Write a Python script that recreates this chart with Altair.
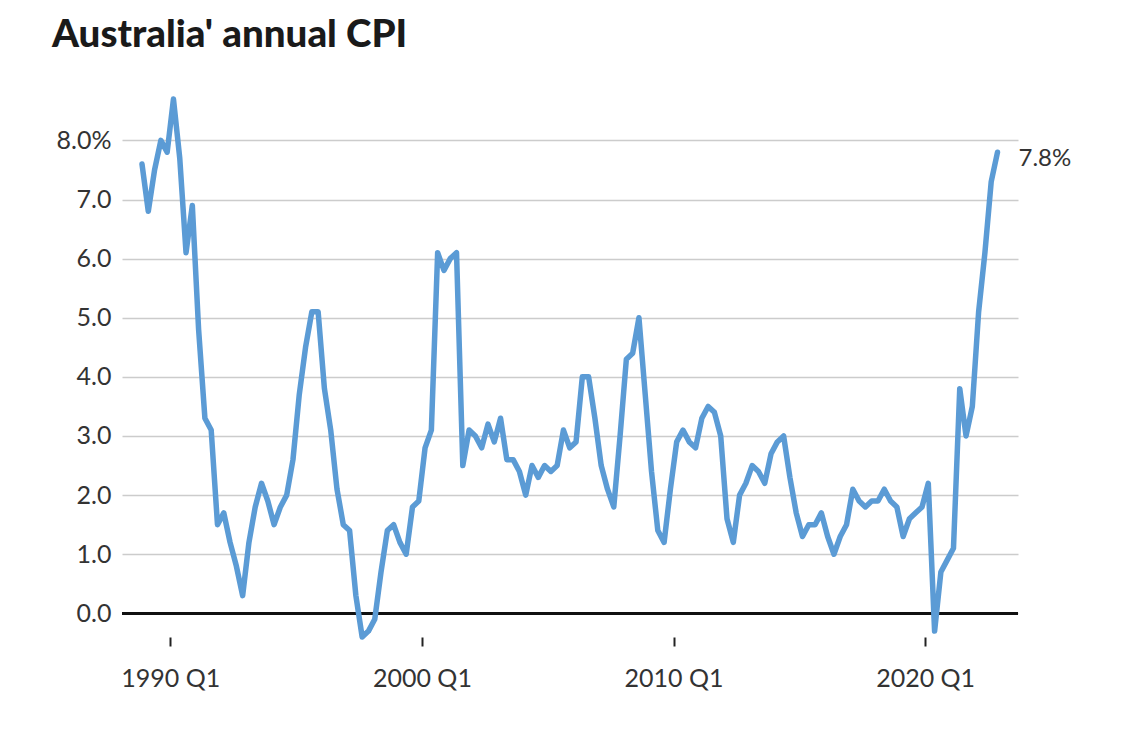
import altair as alt
import pandas as pd

# ---- data ----
START_YEAR = 1988
START_QUARTER = 4
cpi_values = [
    7.6,                      # 1988 Q4
    6.8, 7.5, 8.0, 7.8,       # 1989
    8.7, 7.7, 6.1, 6.9,       # 1990
    4.8, 3.3, 3.1, 1.5,       # 1991
    1.7, 1.2, 0.8, 0.3,       # 1992
    1.2, 1.8, 2.2, 1.9,       # 1993
    1.5, 1.8, 2.0, 2.6,       # 1994
    3.7, 4.5, 5.1, 5.1,       # 1995
    3.8, 3.1, 2.1, 1.5,       # 1996
    1.4, 0.3, -0.4, -0.3,     # 1997
    -0.1, 0.7, 1.4, 1.5,      # 1998
    1.2, 1.0, 1.8, 1.9,       # 1999
    2.8, 3.1, 6.1, 5.8,       # 2000
    6.0, 6.1, 2.5, 3.1,       # 2001
    3.0, 2.8, 3.2, 2.9,       # 2002
    3.3, 2.6, 2.6, 2.4,       # 2003
    2.0, 2.5, 2.3, 2.5,       # 2004
    2.4, 2.5, 3.1, 2.8,       # 2005
    2.9, 4.0, 4.0, 3.3,       # 2006
    2.5, 2.1, 1.8, 3.0,       # 2007
    4.3, 4.4, 5.0, 3.7,       # 2008
    2.4, 1.4, 1.2, 2.1,       # 2009
    2.9, 3.1, 2.9, 2.8,       # 2010
    3.3, 3.5, 3.4, 3.0,       # 2011
    1.6, 1.2, 2.0, 2.2,       # 2012
    2.5, 2.4, 2.2, 2.7,       # 2013
    2.9, 3.0, 2.3, 1.7,       # 2014
    1.3, 1.5, 1.5, 1.7,       # 2015
    1.3, 1.0, 1.3, 1.5,       # 2016
    2.1, 1.9, 1.8, 1.9,       # 2017
    1.9, 2.1, 1.9, 1.8,       # 2018
    1.3, 1.6, 1.7, 1.8,       # 2019
    2.2, -0.3, 0.7, 0.9,      # 2020
    1.1, 3.8, 3.0, 3.5,       # 2021
    5.1, 6.1, 7.3, 7.8,       # 2022
]
x_tick_years = [1990, 2000, 2010, 2020]
y_tick_values = [0, 1, 2, 3, 4, 5, 6, 7, 8]
chart_title = "Australia' annual CPI"

# ---- table ----
rows = []
yr, q = START_YEAR, START_QUARTER
for v in cpi_values:
    rows.append({"period": f"{yr} Q{q}", "t": yr + (q - 1) / 4 + 0.125, "cpi": v})
    q += 1
    if q > 4:
        q = 1
        yr += 1
df = pd.DataFrame(rows)
last_df = df.tail(1).assign(label=lambda d: d["cpi"].map(lambda v: f"{v:.1f}%"))

FONT = "Lato"
TEXT_COLOR = "#333333"

x_enc = alt.X(
    "t:Q",
    scale=alt.Scale(domain=[1988.08, 2023.69], nice=False, zero=False),
    axis=alt.Axis(
        values=x_tick_years,
        labelExpr="datum.value + ' Q1'",
        title=None,
    ),
)
y_enc = alt.Y(
    "cpi:Q",
    scale=alt.Scale(domain=[-0.4, 8.7], nice=False, zero=False),
    axis=alt.Axis(
        values=y_tick_values,
        labelExpr="datum.value == 8 ? format(datum.value, '.1f') + '%' : format(datum.value, '.1f')",
        title=None,
    ),
)

zero_rule = alt.Chart(df).mark_rule(color="#111111", strokeWidth=2).encode(
    y=alt.datum(0)
)

line = alt.Chart(df).mark_line(
    color="#5b9bd5", strokeWidth=5.5, strokeJoin="round", strokeCap="round"
).encode(x=x_enc, y=y_enc)

end_label = alt.Chart(last_df).mark_text(
    align="left", baseline="middle", dx=21, dy=7,
    font=FONT, fontSize=24, color=TEXT_COLOR,
).encode(x=alt.X("t:Q"), y=alt.Y("cpi:Q"), text="label:N")

chart = (
    alt.layer(zero_rule, line, end_label)
    .properties(
        width=896,
        height=538,
        autosize=alt.AutoSizeParams(type="none"),
        padding={"left": 114, "top": 91, "right": 100, "bottom": 85},
        title=alt.TitleParams(
            text=chart_title, anchor="start", frame="group", dx=-70, offset=41,
            font=FONT, fontSize=38.5, fontWeight=900, color="#1a1a1a",
        ),
    )
    .configure_view(stroke=None)
    .configure_axisX(
        grid=False, domain=False, ticks=True, tickSize=9, tickWidth=2,
        tickColor="#222222", labelPadding=20, labelFont=FONT, labelFontSize=25,
        labelColor=TEXT_COLOR,
    )
    .configure_axisY(
        grid=True, gridColor="#cccccc", gridWidth=1.5, domain=False, ticks=False,
        labelPadding=11, labelFont=FONT, labelFontSize=25, labelColor=TEXT_COLOR,
    )
)

chart.save("out.html", embed_options={"renderer": "svg", "actions": False})
